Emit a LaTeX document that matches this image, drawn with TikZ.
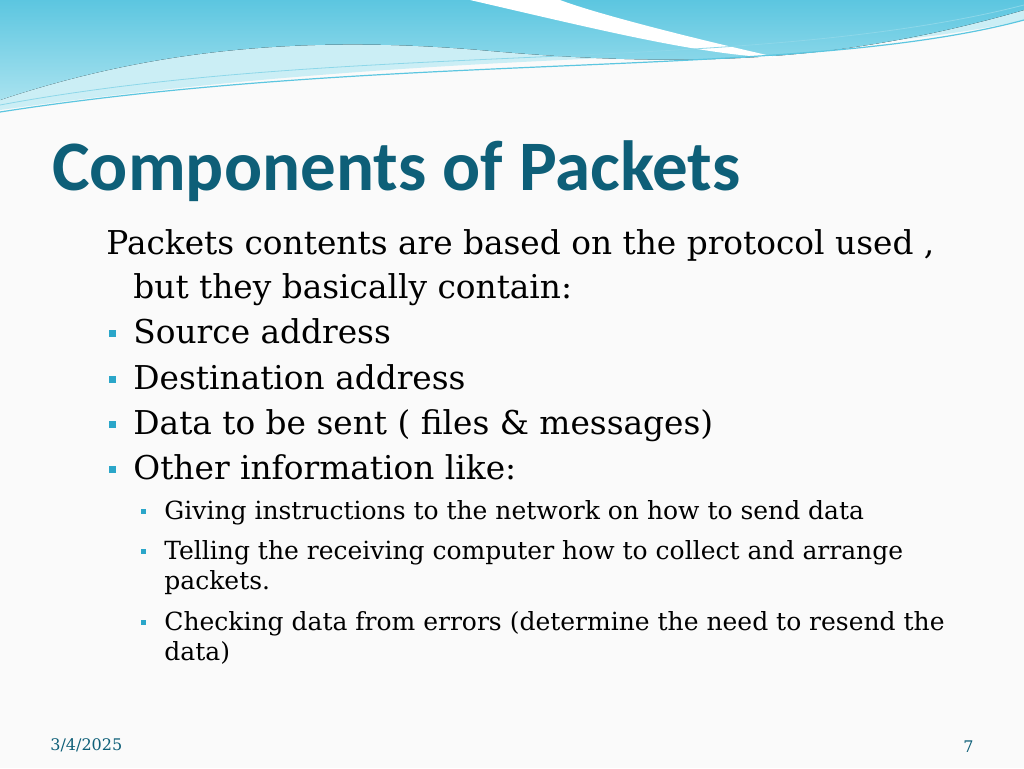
\documentclass[tikz,border=0pt]{standalone}
\usepackage{fontspec}
\setmainfont{DejaVu Serif}
\newfontfamily\titlefont{Carlito}
\definecolor{titleblue}{HTML}{0E5F78}
\definecolor{bul}{HTML}{2AA6C9}
\definecolor{wave1}{HTML}{5CC6E0}
\definecolor{wave2}{HTML}{A8E2EF}
\begin{document}
\begin{tikzpicture}[x=0.5pt,y=-0.5pt,
  body/.style={anchor=base west,inner sep=0pt,font=\fontsize{16.4}{19}\selectfont},
  sub/.style={anchor=base west,inner sep=0pt,font=\fontsize{12.5}{15.5}\selectfont},
  bsq/.style={fill=bul,minimum size=3.5pt,inner sep=0pt},
  ssq/.style={fill=bul,minimum size=2.5pt,inner sep=0pt}]
\fill[white!96!gray] (0,0) rectangle (1024,768);
\useasboundingbox (0,0) rectangle (1024,768);
% waves
\fill[wave2!60] (0,0) -- (1024,0) -- (1024,20) .. controls (800,70) and (500,40) .. (0,110) -- cycle;
\fill[top color=wave1,bottom color=wave2] (0,0) -- (1024,0) -- (1024,10) .. controls (850,60) and (700,70) .. (480,50) .. controls (300,35) and (150,50) .. (0,100) -- cycle;
\fill[white] (470,0) .. controls (600,30) and (700,55) .. (780,58) .. controls (700,40) and (600,15) .. (560,0) -- cycle;
\draw[wave1,line width=0.6pt] (0,112) .. controls (400,50) and (800,80) .. (1024,20);
\draw[wave1!70,line width=0.4pt] (0,105) .. controls (350,40) and (750,75) .. (1024,5);
% title
\node[anchor=base west,inner sep=0pt,text=titleblue,font=\titlefont\bfseries\fontsize{35.5}{40}\selectfont] (title) at (52,190) {Components of Packets};
\node[body] (l1) at (106,254) {Packets contents are based on the protocol used ,};
\node[body] (l2) at (133,298) {but they basically contain:};
\node[body] (b1) at (133,343) {Source address};
\node[body] (b2) at (133,389) {Destination address};
\node[body] (b3) at (133,434) {Data to be sent ( files \& messages)};
\node[body] (b4) at (133,479) {Other information like:};
\foreach \n/\y in {q1/333,q2/379,q3/424,q4/469} \node[bsq] (\n) at (112,\y) {};
\node[sub] (s1) at (164,519) {Giving instructions to the network on how to send data};
\node[sub] (s2) at (164,559) {Telling the receiving computer how to collect and arrange};
\node[sub] (s2b) at (164,589) {packets.};
\node[sub] (s3) at (164,630) {Checking data from errors (determine the need to resend the};
\node[sub] (s3b) at (164,660) {data)};
\foreach \n/\y in {r1/511,r2/551,r3/622} \node[ssq] (\n) at (143,\y) {};
\node[anchor=base west,inner sep=0pt,text=titleblue,font=\fontsize{8}{9}\selectfont] (date) at (50,750) {3/4/2025};
\node[anchor=base east,inner sep=0pt,text=titleblue,font=\fontsize{8}{9}\selectfont] (pg) at (974,752) {7};
\end{tikzpicture}
\end{document}
